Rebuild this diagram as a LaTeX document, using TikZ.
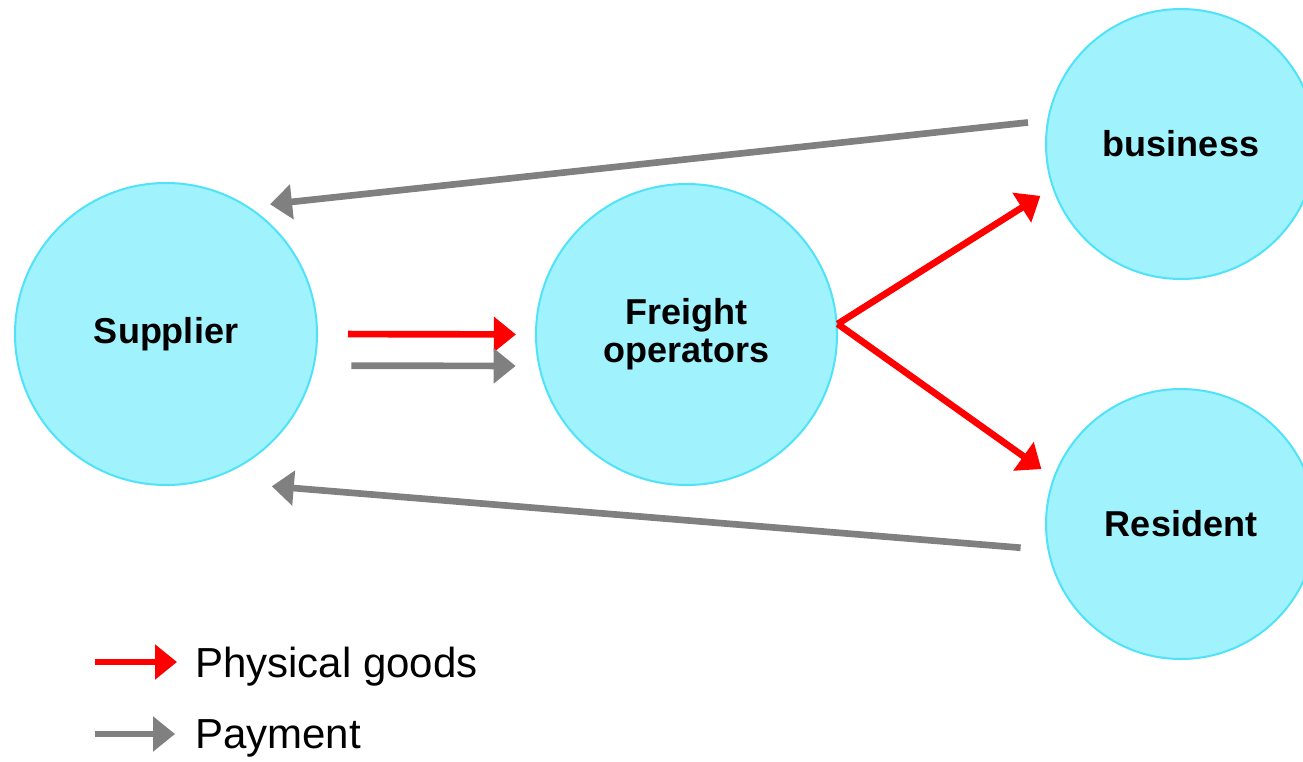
\documentclass[tikz,border=0pt]{standalone}
\usepackage{fontspec}
\setmainfont{Liberation Sans}
\usetikzlibrary{arrows.meta}
\definecolor{bubblefill}{RGB}{160,242,253}
\definecolor{bubbleline}{RGB}{80,226,248}
\definecolor{paygray}{RGB}{128,128,128}
\tikzset{
  bubble/.style={circle,draw=bubbleline,fill=bubblefill,line width=1.5pt,inner sep=0pt,
    align=center,font=\fontsize{27}{28.5}\selectfont\bfseries},
  goods/.style={draw=red,line width=5pt,-{Triangle[length=16.5pt,width=25.5pt]}},
  pay/.style={draw=paygray,line width=5pt,-{Triangle[length=16.5pt,width=25.5pt]}},
  legend/.style={anchor=base west,inner sep=0pt,font=\fontsize{31.5}{33}\selectfont}
}
\begin{document}
\begin{tikzpicture}[x=0.75pt,y=-0.75pt]
   \useasboundingbox (0,0) rectangle (1303,761);

   \node[bubble,minimum size=226.5pt] (sup) at (166,334) {Supplier};
   \node[bubble,minimum size=225.75pt] (frt) at (686.5,334.5) {Freight\\operators};
   \node[bubble,minimum size=202.5pt] (biz) at (1181,144) {business};
   \node[bubble,minimum size=202.5pt] (res) at (1181,524) {Resident};

   % supplier to freight operators
   \draw[goods,shorten <=22.5pt,shorten >=14.3pt] (sup.0) -- (frt.180);
   \draw[pay,shorten <=27.5pt,shorten >=17pt] (sup.-12.5) -- (frt.192.5);

   % freight operators to customers
   \draw[goods,shorten >=10.7pt] (frt.4) -- (biz.199.8);
   \draw[goods,shorten >=10.9pt] (frt.4) -- (res.160.6);

   % payments back to supplier
   \draw[pay,shorten <=14.4pt,shorten >=16pt] (biz.170) -- (sup.57.3);
   \draw[pay,shorten <=20.25pt,shorten >=50pt] (res.191.9) -- (sup.-75.8);

   % legend
   \coordinate (lgoodsA) at (95,662);
   \coordinate (lgoodsB) at (177,662);
   \coordinate (lpayA) at (95,734);
   \coordinate (lpayB) at (175,734);
   \draw[goods] (lgoodsA) -- (lgoodsB);
   \draw[pay] (lpayA) -- (lpayB);
   \node[legend] (lgoods) at (195,677) {Physical goods};
   \node[legend] (lpay) at (195,748) {Payment};
\end{tikzpicture}
\end{document}
